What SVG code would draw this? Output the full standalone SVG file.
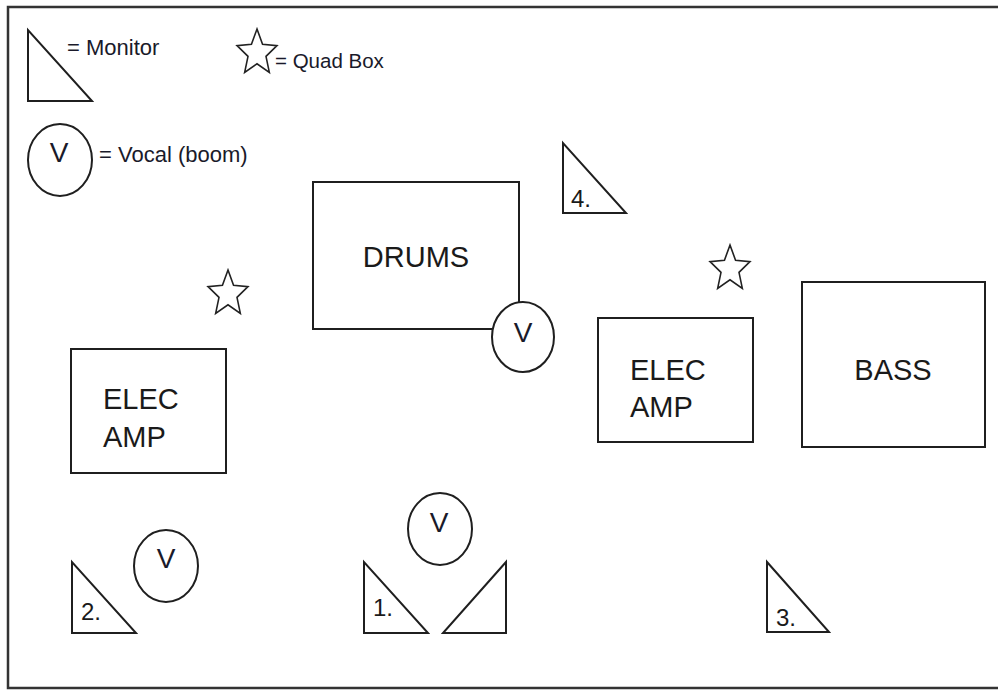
<svg xmlns="http://www.w3.org/2000/svg" xmlns:xlink="http://www.w3.org/1999/xlink" width="998" height="690" viewBox="0 0 998 690">
<style>
.shape{fill:#fff;stroke:#1f1f1f;stroke-width:2}
.star{fill:none;stroke:#222;stroke-width:1.6;stroke-linejoin:miter}
.lbl{font-family:"Liberation Sans",Arial,sans-serif;font-size:29px;fill:#1a1a1a}
.leg{font-family:"Liberation Sans",Arial,sans-serif;font-size:22px;fill:#1a1a2a}
.num{font-family:"Liberation Sans",Arial,sans-serif;font-size:24px;fill:#1a1a1a}
.v{font-family:"Liberation Sans",Arial,sans-serif;font-size:28px;fill:#1a1a2a;text-anchor:middle}
</style>
<defs>
<path id="star" d="M0,-24 L5.55,-8.74 L19.97,-7.42 L8.99,3.34 L12.34,19.42 L0,10.8 L-12.34,19.42 L-8.99,3.34 L-19.97,-7.42 L-5.55,-8.74 Z"/>
</defs>
<rect x="0" y="0" width="998" height="690" fill="#fff"/>
<g id="border">
<path d="M998,7 H8 V688 H998" fill="none" stroke="#333" stroke-width="2.5"/>
</g>
<g id="legend">
<g id="legend-monitor">
<polygon class="shape" points="28,30 28,101 92,101"/>
<text class="leg" x="67" y="55">= Monitor</text>
</g>
<g id="legend-quad">
<use xlink:href="#star" href="#star" class="star" x="257" y="53"/>
<text class="leg" x="275" y="68" style="font-size:20.5px">= Quad Box</text>
</g>
<g id="legend-vocal">
<ellipse class="shape" cx="60" cy="160" rx="32" ry="36"/>
<text class="v" x="59" y="162">V</text>
<text class="leg" x="99" y="162">= Vocal (boom)</text>
</g>
</g>
<g id="drums">
<rect class="shape" x="313" y="182" width="206" height="147"/>
<text class="lbl" x="416" y="267" text-anchor="middle">DRUMS</text>
</g>
<g id="vocal-drums">
<ellipse class="shape" cx="523" cy="337" rx="31" ry="35"/>
<text class="v" x="523" y="342">V</text>
</g>
<g id="monitor-4">
<polygon class="shape" points="563,143 563,213 626,213"/>
<text class="num" x="571" y="207">4.</text>
</g>
<g id="quad-left"><use xlink:href="#star" href="#star" class="star" x="228" y="294"/></g>
<g id="quad-right"><use xlink:href="#star" href="#star" class="star" x="730" y="269"/></g>
<g id="elec-amp-left">
<rect class="shape" x="71" y="349" width="155" height="124"/>
<text class="lbl" x="103" y="409">ELEC</text>
<text class="lbl" x="103" y="447">AMP</text>
</g>
<g id="elec-amp-right">
<rect class="shape" x="598" y="318" width="155" height="124"/>
<text class="lbl" x="630" y="380">ELEC</text>
<text class="lbl" x="630" y="417">AMP</text>
</g>
<g id="bass">
<rect class="shape" x="802" y="282" width="183" height="165"/>
<text class="lbl" x="893" y="380" text-anchor="middle">BASS</text>
</g>
<g id="vocal-left">
<ellipse class="shape" cx="166" cy="566" rx="32" ry="36"/>
<text class="v" x="166" y="568">V</text>
</g>
<g id="vocal-center">
<ellipse class="shape" cx="440" cy="529" rx="32" ry="36"/>
<text class="v" x="439" y="532">V</text>
</g>
<g id="monitor-2">
<polygon class="shape" points="72,562 72,633 136,633"/>
<text class="num" x="81" y="620">2.</text>
</g>
<g id="monitor-1">
<polygon class="shape" points="364,562 364,633 428,633"/>
<text class="num" x="373" y="616">1.</text>
</g>
<g id="monitor-1b">
<polygon class="shape" points="506,562 443,633 506,633"/>
</g>
<g id="monitor-3">
<polygon class="shape" points="767,562 767,632 829,632"/>
<text class="num" x="776" y="626">3.</text>
</g>
<g id="connectors"></g>
</svg>
